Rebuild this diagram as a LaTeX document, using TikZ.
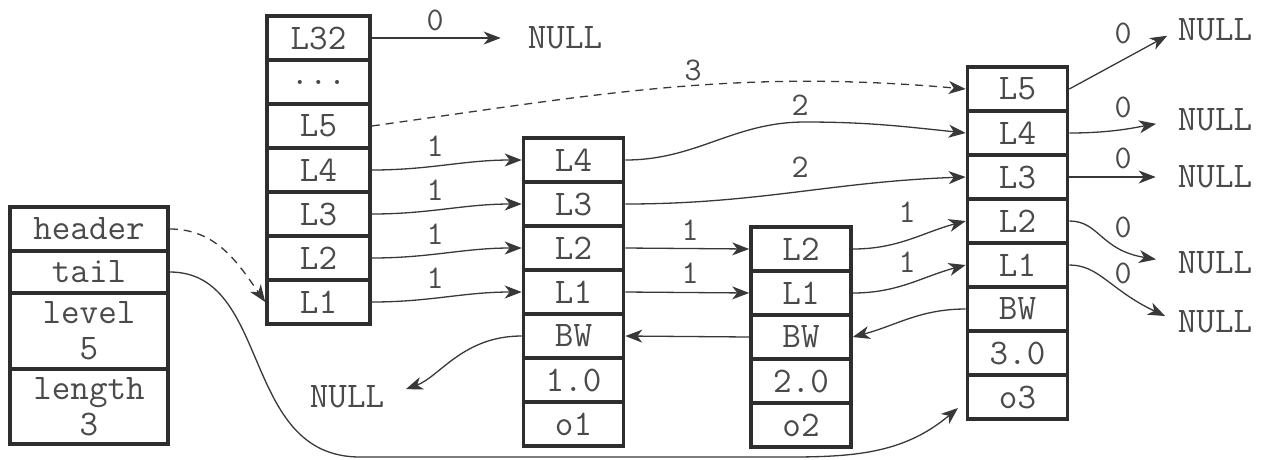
\documentclass[tikz,border=0pt]{standalone}
\usepackage{tikz}
\usetikzlibrary{arrows.meta}
\definecolor{slBox}{HTML}{2E2E2E}
\definecolor{slText}{HTML}{4A4A4A}
\definecolor{slLine}{HTML}{383838}

\begin{document}
\begin{tikzpicture}[x=1pt,y=1pt,
    cell/.style={draw=slBox,line width=3.6pt,minimum width=100pt,minimum height=44pt,
      inner sep=0pt,text=slText,align=center,font=\ttfamily\fontsize{36}{36}\selectfont},
    nul/.style={inner sep=0pt,text=slText,font=\ttfamily\fontsize{36}{30}\selectfont},
    lbl/.style={inner sep=0pt,text=slText,font=\ttfamily\fontsize{33}{30}\selectfont},
    ptr/.style={draw=slLine,line width=1.3pt,-{Stealth[length=17pt,width=13pt,inset=5pt]}},
    dptr/.style={ptr,dash pattern=on 8pt off 6pt}]
    \useasboundingbox (0,0) rectangle (1265,-459);
    % list structure
    \node[cell,minimum width=158pt] (lhead) at (89,-229) {header};
    \node[cell,minimum width=158pt,minimum height=42pt] (ltail) at (89,-272) {tail};
    \node[cell,minimum width=158pt,minimum height=76pt] (llevel) at (89,-331) {level\\5};
    \node[cell,minimum width=158pt,minimum height=75pt] (llen) at (89,-406.5) {length\\3};
    % header node
    \node[cell,minimum width=103pt] (hL32) at (318.5,-38) {L32};
    \node[cell,minimum width=103pt] (hdots) at (318.5,-82) {...};
    \node[cell,minimum width=103pt] (hL5) at (318.5,-126) {L5};
    \node[cell,minimum width=103pt] (hL4) at (318.5,-170) {L4};
    \node[cell,minimum width=103pt] (hL3) at (318.5,-214) {L3};
    \node[cell,minimum width=103pt] (hL2) at (318.5,-258) {L2};
    \node[cell,minimum width=103pt] (hL1) at (318.5,-302) {L1};
    % node o1
    \node[cell] (aL4) at (573.5,-160) {L4};
    \node[cell] (aL3) at (573.5,-204) {L3};
    \node[cell] (aL2) at (573.5,-248) {L2};
    \node[cell] (aL1) at (573.5,-292) {L1};
    \node[cell] (aBW) at (573.5,-336) {BW};
    \node[cell] (aS) at (573.5,-380) {1.0};
    \node[cell] (aO) at (573.5,-424) {o1};
    % node o2
    \node[cell] (bL2) at (801,-249) {L2};
    \node[cell] (bL1) at (801,-293) {L1};
    \node[cell] (bBW) at (801,-337) {BW};
    \node[cell] (bS) at (801,-381) {2.0};
    \node[cell] (bO) at (801,-425) {o2};
    % node o3
    \node[cell] (cL5) at (1017.5,-89) {L5};
    \node[cell] (cL4) at (1017.5,-133) {L4};
    \node[cell] (cL3) at (1017.5,-177) {L3};
    \node[cell] (cL2) at (1017.5,-221) {L2};
    \node[cell] (cL1) at (1017.5,-265) {L1};
    \node[cell] (cBW) at (1017.5,-309) {BW};
    \node[cell] (cS) at (1017.5,-353) {3.0};
    \node[cell] (cO) at (1017.5,-397) {o3};
    % NULL ends
    \node[nul] (n32) at (565,-38) {NULL};
    \node[nul] (nL) at (347,-397) {NULL};
    \node[nul] (nc5) at (1215,-30) {NULL};
    \node[nul] (nc4) at (1215,-120) {NULL};
    \node[nul] (nc3) at (1215,-177) {NULL};
    \node[nul] (nc2) at (1215,-263) {NULL};
    \node[nul] (nc1) at (1215,-322) {NULL};
    % spans
    \node[lbl] (s32) at (435,-20) {0};
    \node[lbl] (s4) at (435,-146) {1};
    \node[lbl] (s3) at (435,-190) {1};
    \node[lbl] (s2) at (435,-234) {1};
    \node[lbl] (s1) at (435,-278) {1};
    \node[lbl] (t5) at (693,-70) {3};
    \node[lbl] (t4) at (800,-105) {2};
    \node[lbl] (t3) at (800,-167) {2};
    \node[lbl] (u2) at (690,-230) {1};
    \node[lbl] (u1) at (690,-273) {1};
    \node[lbl] (v2) at (907,-212) {1};
    \node[lbl] (v1) at (907,-262) {1};
    \node[lbl] (z5) at (1123,-33) {0};
    \node[lbl] (z4) at (1123,-107) {0};
    \node[lbl] (z3) at (1123,-158) {0};
    \node[lbl] (z2) at (1123,-227) {0};
    \node[lbl] (z1) at (1123,-273) {0};
    \coordinate (tailbot) at (360,-457);
    \coordinate (tailmid) at (790,-457);
    \coordinate (tailend) at (958,-408);
    \coordinate (a4top) at (805,-122);
    % pointers
    \draw[dptr] (lhead.east) to[out=0,in=125] (hL1.west);
    \draw[ptr] (ltail.east) .. controls +(102,0) and +(-120,0) .. (tailbot) -- (tailmid) to[out=0,in=220] (tailend);
    \draw[ptr,shorten >=27pt] (hL32.east) -- (n32.west);
    \draw[dptr] (hL5.east) to[out=8,in=175] (cL5.west);
    \draw[ptr] (hL4.east) to[out=0,in=180] (aL4.west);
    \draw[ptr] (hL3.east) to[out=0,in=180] (aL3.west);
    \draw[ptr] (hL2.east) to[out=0,in=180] (aL2.west);
    \draw[ptr] (hL1.east) to[out=0,in=180] (aL1.west);
    \draw[ptr] (aL4.east) to[out=0,in=180] (a4top) to[out=0,in=174] (cL4.west);
    \draw[ptr] (aL3.east) to[out=0,in=182] (cL3.west);
    \draw[ptr] (aL2.east) -- (bL2.west);
    \draw[ptr] (aL1.east) -- (bL1.west);
    \draw[ptr] (bL2.east) to[out=0,in=195] (cL2.west);
    \draw[ptr] (bL1.east) to[out=0,in=195] (cL1.west);
    \draw[ptr] (cBW.west) to[out=180,in=15] (bBW.east);
    \draw[ptr] (bBW.west) -- (aBW.east);
    \draw[ptr,shorten >=23pt] (aBW.west) to[out=180,in=20] (nL.east);
    \draw[ptr,shorten >=12pt] (cL5.east) -- (nc5.west);
    \draw[ptr,shorten >=22pt] (cL4.east) to[out=0,in=190] (nc4.west);
    \draw[ptr,shorten >=22pt] (cL3.east) -- (nc3.west);
    \draw[ptr,shorten >=22pt] (cL2.east) .. controls +(30,0) and (1100,-250) .. (nc2.west);
    \draw[ptr,shorten >=14pt] (cL1.east) .. controls +(30,0) and (1110,-290) .. (nc1.west);
\end{tikzpicture}
\end{document}
